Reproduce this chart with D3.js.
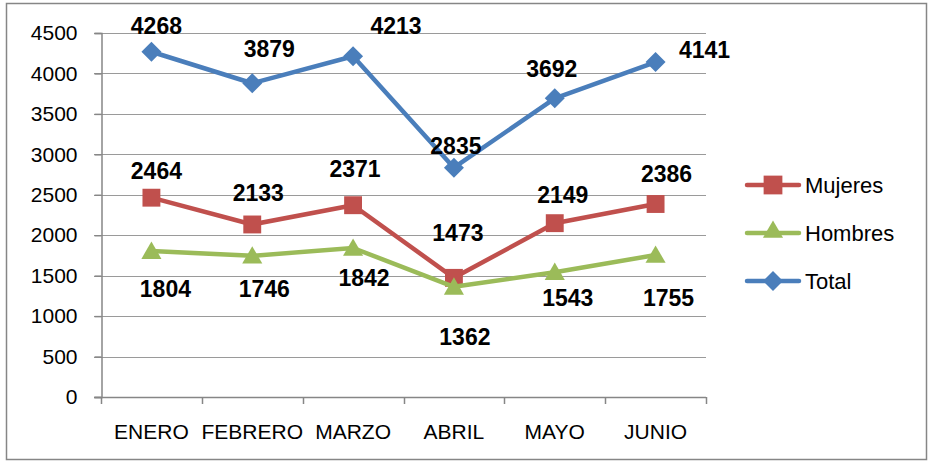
<!DOCTYPE html>
<html>
<head>
<meta charset="utf-8">
<script src="https://cdn.jsdelivr.net/npm/d3@7"></script>
<style>
  body { margin: 0; background: #fff; }
  svg { display: block; font-family: "Liberation Sans", Arial, sans-serif; }
</style>
</head>
<body>
<div id="chart"></div>
<script>
// chart data
var months = ['ENERO', 'FEBRERO', 'MARZO', 'ABRIL', 'MAYO', 'JUNIO'];
var mujeres = [2464, 2133, 2371, 1473, 2149, 2386];
var hombres = [1804, 1746, 1842, 1362, 1543, 1755];
var total = [4268, 3879, 4213, 2835, 3692, 4141];
var yTicks = [0, 500, 1000, 1500, 2000, 2500, 3000, 3500, 4000, 4500];
var seriesNames = ['Mujeres', 'Hombres', 'Total'];

// label nudges (px) relative to each point, like the hand-placed labels in the original
var labelDx = {
    Mujeres: [5, 6, 2, 4, 8, 11],
    Hombres: [14, 12, 11, 11, 13, 13],
    Total: [5, 17, 43, 2, -3, 49]
};
var labelDy = {
    Mujeres: [-27, -32, -36, -45, -28, -30],
    Hombres: [38, 33, 30, 50, 26, 43],
    Total: [-26, -35, -30, -22, -30, -12]
};

var svgWidth = 930;
var svgHeight = 462;

// plot area
var plot = { left: 101, right: 706, top: 33, bottom: 397 };

var colors = { Mujeres: '#C0504D', Hombres: '#9BBB59', Total: '#4A7EBB' };
var values = { Mujeres: mujeres, Hombres: hombres, Total: total };

var svg = d3.select('#chart')
    .append('svg')
    .attr('width', svgWidth)
    .attr('height', svgHeight);

// outer frame
svg.append('rect')
    .attr('x', 6.5).attr('y', 3.5)
    .attr('width', 920).attr('height', 456)
    .attr('fill', 'none')
    .attr('stroke', '#868686')
    .attr('stroke-width', 1.5);

var xBand = d3.scaleBand()
    .domain(months)
    .range([plot.left, plot.right]);

var yScale = d3.scaleLinear()
    .domain([0, 4500])
    .range([plot.bottom, plot.top]);

var xPos = m => xBand(m) + xBand.bandwidth() / 2;

// horizontal grid lines
svg.append('g')
    .selectAll('line')
    .data(yTicks.filter(t => t > 0))
    .enter()
    .append('line')
    .attr('x1', plot.left - 7)
    .attr('x2', plot.right)
    .attr('y1', d => Math.round(yScale(d)) + 0.5)
    .attr('y2', d => Math.round(yScale(d)) + 0.5)
    .attr('stroke', '#9A9A9A')
    .attr('stroke-width', 1.2);

// y axis
var leftAxis = d3.axisLeft(yScale)
    .tickValues(yTicks)
    .tickFormat(d3.format('d'))
    .tickSize(7)
    .tickPadding(17);

var yAxisG = svg.append('g')
    .attr('transform', `translate(${plot.left + 0.5}, 0)`)
    .call(leftAxis);
yAxisG.select('.domain').attr('stroke', '#868686').attr('stroke-width', 1.5);
yAxisG.selectAll('.tick line').attr('stroke', '#868686').attr('stroke-width', 1.5);
yAxisG.selectAll('.tick text')
    .attr('font-size', 21)
    .attr('font-family', '"Liberation Sans", Arial, sans-serif')
    .attr('fill', '#000');

// x axis: labels centred in bands, ticks on band edges
var bottomAxis = d3.axisBottom(xBand)
    .tickSize(0)
    .tickPadding(27);

var xAxisG = svg.append('g')
    .attr('transform', `translate(0, ${plot.bottom + 0.5})`)
    .call(bottomAxis);
xAxisG.select('.domain').remove();
xAxisG.selectAll('.tick text')
    .attr('font-size', 21)
    .attr('font-family', '"Liberation Sans", Arial, sans-serif')
    .attr('fill', '#000');

svg.append('line')
    .attr('x1', plot.left - 7).attr('x2', plot.right)
    .attr('y1', plot.bottom + 0.5).attr('y2', plot.bottom + 0.5)
    .attr('stroke', '#868686').attr('stroke-width', 1.5);

var edges = months.map(m => xBand(m)).concat([plot.right]);
svg.append('g')
    .selectAll('line')
    .data(edges)
    .enter()
    .append('line')
    .attr('x1', d => Math.round(d) + 0.5)
    .attr('x2', d => Math.round(d) + 0.5)
    .attr('y1', plot.bottom)
    .attr('y2', plot.bottom + 7)
    .attr('stroke', '#868686')
    .attr('stroke-width', 1.5);

// marker shapes
function markerPath(name, scale) {
    scale = scale || 1;
    if (name === 'Mujeres') return d3.symbol().type(d3.symbolSquare).size(320 * scale)();
    if (name === 'Hombres') return d3.symbol().type(d3.symbolTriangle).size(175 * scale)();
    return d3.symbol().type(d3.symbolSquare).size(200 * scale)();
}
function markerRotate(name) {
    return name === 'Total' ? ' rotate(45)' : '';
}

var line = d3.line()
    .x(d => xPos(d.month))
    .y(d => yScale(d.value));

seriesNames.forEach(name => {
    var pts = months.map((m, i) => ({ month: m, value: values[name][i], i: i }));
    var g = svg.append('g');

    g.append('path')
        .datum(pts)
        .attr('d', line)
        .attr('fill', 'none')
        .attr('stroke', colors[name])
        .attr('stroke-width', 4.5)
        .attr('stroke-linejoin', 'round');

    g.selectAll('path.marker')
        .data(pts)
        .enter()
        .append('path')
        .attr('class', 'marker')
        .attr('d', markerPath(name))
        .attr('transform', d => `translate(${xPos(d.month)}, ${yScale(d.value) + (name === 'Hombres' ? 2 : 0)})` + markerRotate(name))
        .attr('fill', colors[name]);
});

// data labels on top
seriesNames.forEach(name => {
    var pts = months.map((m, i) => ({ month: m, value: values[name][i], i: i }));
    svg.append('g')
        .selectAll('text')
        .data(pts)
        .enter()
        .append('text')
        .attr('x', d => xPos(d.month) + labelDx[name][d.i])
        .attr('y', d => yScale(d.value) + labelDy[name][d.i])
        .attr('dy', '0.36em')
        .attr('text-anchor', 'middle')
        .attr('font-size', 23)
        .attr('font-weight', 'bold')
        .attr('fill', '#000')
        .text(d => d.value);
});

// legend
var legend = svg.append('g');
var legendY = [185, 233, 281];
seriesNames.forEach((name, i) => {
    var row = legend.append('g').attr('transform', `translate(0, ${legendY[i]})`);
    row.append('line')
        .attr('x1', 747).attr('x2', 799)
        .attr('y1', 0).attr('y2', 0)
        .attr('stroke', colors[name])
        .attr('stroke-width', 4.5)
        .attr('stroke-linecap', 'round');
    row.append('path')
        .attr('d', markerPath(name, name === 'Mujeres' ? 1.1 : 1))
        .attr('transform', `translate(773, ${name === 'Hombres' ? -1 : 0})` + markerRotate(name))
        .attr('fill', colors[name]);
    row.append('text')
        .attr('x', 805)
        .attr('y', 0)
        .attr('dy', '0.36em')
        .attr('font-size', 22)
        .attr('fill', '#000')
        .text(name);
});
</script>
</body>
</html>
